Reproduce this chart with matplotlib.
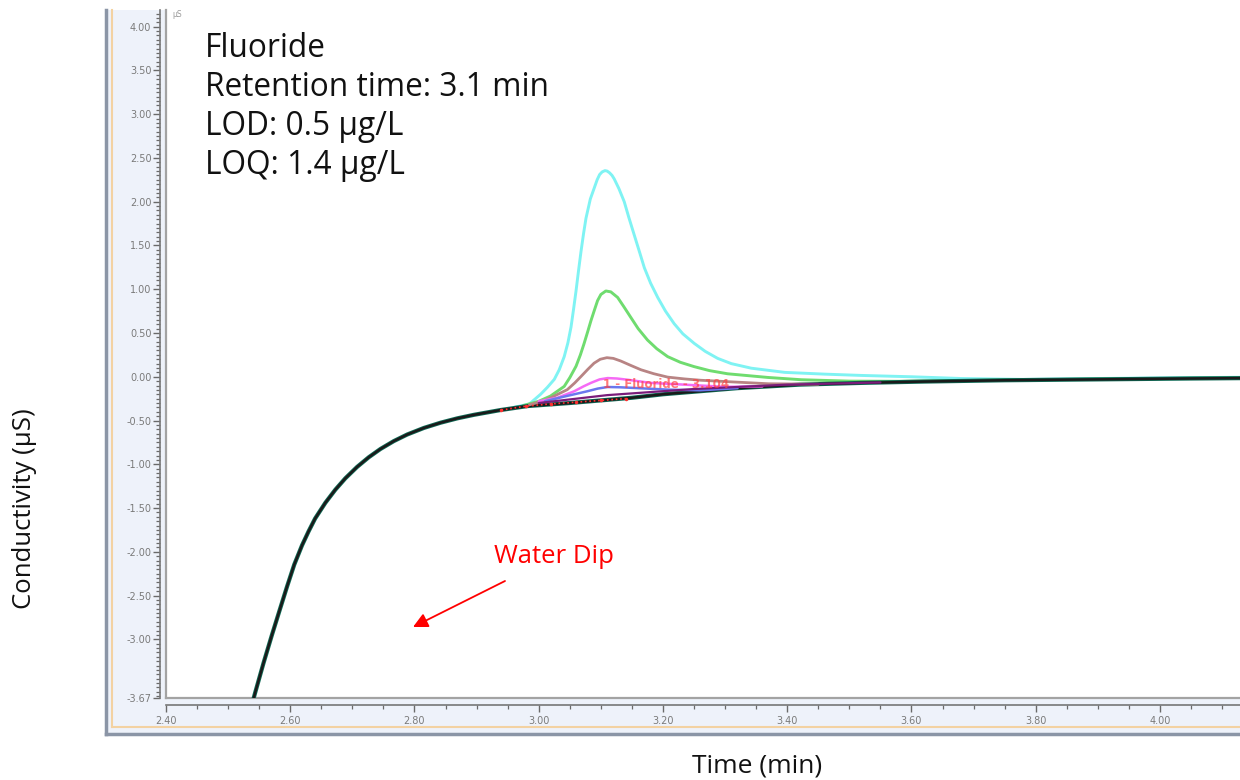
import matplotlib
matplotlib.use('Agg')
import matplotlib.pyplot as plt
from matplotlib.patches import Rectangle
from matplotlib.lines import Line2D
from matplotlib.ticker import MultipleLocator, FixedLocator, FixedFormatter

# ---------------- data ----------------
base_t = [2.535, 2.5435, 2.557, 2.5705, 2.583, 2.5947, 2.6065, 2.619, 2.6296, 2.640,
          2.6565, 2.6726, 2.6887, 2.7076, 2.7263, 2.7452, 2.7667, 2.7882, 2.815, 2.8419,
          2.869, 2.8956, 2.9387, 2.9818, 3.05, 3.10, 3.15, 3.20, 3.26, 3.32,
          3.42, 3.52, 3.62, 3.75, 3.90, 4.05, 4.15]
base_v = [-3.83, -3.61, -3.27, -2.95, -2.665, -2.40, -2.145, -1.925, -1.765, -1.62,
          -1.44, -1.29, -1.16, -1.03, -0.92, -0.825, -0.735, -0.66, -0.585, -0.525,
          -0.475, -0.435, -0.38, -0.335, -0.30, -0.27, -0.24, -0.20, -0.165, -0.13,
          -0.09, -0.07, -0.055, -0.04, -0.03, -0.02, -0.015]

cyan_t = [2.960, 2.985, 3.003, 3.014, 3.025, 3.033, 3.041, 3.047, 3.052, 3.056,
          3.060, 3.064, 3.068, 3.072, 3.076, 3.083, 3.089, 3.094, 3.098, 3.102,
          3.1065, 3.110, 3.114, 3.118, 3.1215, 3.129, 3.1376, 3.145, 3.1537, 3.162,
          3.170, 3.180, 3.1915, 3.204, 3.218, 3.232, 3.2505, 3.268, 3.288, 3.31,
          3.342, 3.396, 3.46, 3.52, 3.60, 3.68, 3.78, 3.90, 4.05, 4.15]
cyan_v = [-0.35, -0.31, -0.20, -0.12, -0.03, 0.08, 0.23, 0.39, 0.57, 0.77,
          0.98, 1.21, 1.43, 1.63, 1.81, 2.03, 2.15, 2.25, 2.31, 2.34,
          2.355, 2.35, 2.33, 2.30, 2.26, 2.15, 2.00, 1.82, 1.62, 1.43,
          1.245, 1.07, 0.906, 0.75, 0.606, 0.49, 0.38, 0.29, 0.21, 0.15,
          0.098, 0.05, 0.03, 0.015, 0.0, -0.02, -0.03, -0.02, -0.01, -0.005]

green_t = [2.975, 3.000, 3.019, 3.041, 3.050, 3.060, 3.067, 3.073, 3.079, 3.084,
           3.090, 3.0947, 3.100, 3.108, 3.116, 3.127, 3.137, 3.148, 3.160, 3.175,
           3.190, 3.2075, 3.228, 3.25, 3.275, 3.304, 3.369, 3.4226, 3.50, 3.58,
           3.70, 3.85, 4.00, 4.15]
green_v = [-0.33, -0.28, -0.22, -0.11, -0.01, 0.12, 0.25, 0.38, 0.52, 0.64,
           0.77, 0.87, 0.94, 0.98, 0.97, 0.906, 0.80, 0.68, 0.55, 0.42,
           0.32, 0.23, 0.165, 0.116, 0.07, 0.034, -0.008, -0.034, -0.05, -0.052,
           -0.042, -0.03, -0.02, -0.012]

brown_t = [2.985, 3.010, 3.025, 3.046, 3.058, 3.068, 3.079, 3.089, 3.099, 3.1097,
           3.120, 3.132, 3.148, 3.1645, 3.185, 3.2075, 3.235, 3.261, 3.315, 3.37, 3.45]
brown_v = [-0.32, -0.27, -0.22, -0.147, -0.07, 0.003, 0.085, 0.155, 0.20, 0.218,
           0.21, 0.18, 0.13, 0.08, 0.035, -0.004, -0.025, -0.04, -0.06, -0.08, -0.085]

magenta_t = [3.000, 3.030, 3.057, 3.072, 3.084, 3.098, 3.111, 3.126, 3.143, 3.18,
             3.234, 3.30, 3.36]
magenta_v = [-0.28, -0.24, -0.166, -0.11, -0.07, -0.03, -0.015, -0.02, -0.034, -0.07,
             -0.09, -0.115, -0.11]

blue_t = [3.010, 3.045, 3.078, 3.095, 3.111, 3.130, 3.154, 3.2075, 3.26, 3.32]
blue_v = [-0.28, -0.22, -0.166, -0.135, -0.117, -0.12, -0.128, -0.147, -0.155, -0.13]

purple_t = [3.00, 3.11, 3.25, 3.40, 3.55]
purple_v = [-0.30, -0.21, -0.14, -0.09, -0.065]

integ_t = [2.94, 2.98, 3.02, 3.06, 3.10, 3.14]
integ_v = [-0.38, -0.335, -0.31, -0.29, -0.27, -0.25]

y_ticks = [-3.67, -3.00, -2.50, -2.00, -1.50, -1.00, -0.50, 0.00, 0.50, 1.00, 1.50,
           2.00, 2.50, 3.00, 3.50, 4.00]
x_ticks = [2.40, 2.60, 2.80, 3.00, 3.20, 3.40, 3.60, 3.80, 4.00]

info_lines = ["Fluoride", "Retention time: 3.1 min", "LOD: 0.5 µg/L", "LOQ: 1.4 µg/L"]

# ---------------- figure ----------------
W, H = 1240, 780
fig = plt.figure(figsize=(12.4, 7.8), dpi=100)
fig.patch.set_facecolor('white')
FONT = ['Open Sans', 'DejaVu Sans']


def fx(x):
    return x / W


def fy(y):
    return 1 - y / H


# software panel background
fig.patches.append(Rectangle((fx(106), fy(734)), fx(1250) - fx(106), fy(10) - fy(734),
                             transform=fig.transFigure, facecolor='#eef2fa',
                             edgecolor='none', zorder=-5))
# gray outer frame
fig.add_artist(Line2D([fx(106), fx(106)], [fy(10), fy(734)], color='#8b95a6', lw=2.5,
                      transform=fig.transFigure))
fig.add_artist(Line2D([fx(106), fx(1240)], [fy(734), fy(734)], color='#8b95a6', lw=2.5,
                      transform=fig.transFigure))
# orange inner frame
fig.add_artist(Line2D([fx(112), fx(112)], [fy(10), fy(727)], color='#f3d2a2', lw=1.5,
                      transform=fig.transFigure))
fig.add_artist(Line2D([fx(112), fx(1240)], [fy(727), fy(727)], color='#f3d2a2', lw=1.5,
                      transform=fig.transFigure))

ax = fig.add_axes([fx(166), fy(698), fx(1242) - fx(166), fy(10) - fy(698)])
ax.set_facecolor('white')
ax.set_xlim(2.40, 4.132)
ax.set_ylim(-3.67, 4.19)

# plot-area border
ax.plot([0, 0], [0, 1], transform=ax.transAxes, color='#a3a3a3', lw=1.6, clip_on=False, zorder=1)
ax.plot([0, 1], [0, 0], transform=ax.transAxes, color='#a3a3a3', lw=1.6, clip_on=False, zorder=1)

for s in ['top', 'right']:
    ax.spines[s].set_visible(False)
ax.spines['left'].set_position(('outward', 4))
ax.spines['bottom'].set_position(('outward', 5))
for s in ['left', 'bottom']:
    ax.spines[s].set_color('#777777')
    ax.spines[s].set_linewidth(1.2)

ax.yaxis.set_major_locator(FixedLocator(y_ticks))
ax.yaxis.set_major_formatter(FixedFormatter(['%.2f' % v for v in y_ticks]))
ax.yaxis.set_minor_locator(MultipleLocator(0.05))
ax.xaxis.set_major_locator(FixedLocator(x_ticks))
ax.xaxis.set_major_formatter(FixedFormatter(['%.2f' % v for v in x_ticks]))
ax.xaxis.set_minor_locator(MultipleLocator(0.05))

ax.tick_params(axis='both', which='major', length=5, width=1, color='#6a6a6a',
               labelsize=7, labelcolor='#7a7a7a')
ax.tick_params(axis='both', which='minor', length=3, width=0.9, color='#6a6a6a')
ax.tick_params(axis='y', which='both', pad=1.5)
ax.tick_params(axis='x', which='both', pad=3)

# ---------------- traces ----------------
kw = dict(solid_joinstyle='round', solid_capstyle='round')
ax.plot(cyan_t, cyan_v, color='#7ff3f3', lw=2.1, zorder=3, **kw)
ax.plot(green_t, green_v, color='#6fdc6f', lw=2.1, zorder=3.05, **kw)
ax.plot(base_t, base_v, color='#0f6a55', lw=3.0, zorder=3.1, **kw)
ax.plot(base_t, base_v, color='#1a1a1a', lw=1.8, zorder=3.2, **kw)

ax.plot(brown_t, brown_v, color='#b88484', lw=2.0, zorder=4.2, **kw)
ax.plot(magenta_t, magenta_v, color='#f56af5', lw=1.8, zorder=4.3, **kw)
ax.plot(blue_t, blue_v, color='#6b78ee', lw=1.8, zorder=4.4, **kw)
ax.plot(purple_t, purple_v, color='#7a1c7a', lw=1.6, zorder=4.5, **kw)
ax.plot(integ_t, integ_v, color='#ff3030', lw=1.2, ls=':', marker='.', markersize=3,
        zorder=5)
ax.text(3.103, -0.085, '1 - Fluoride - 3.104', color='#ff4040', fontsize=8.5,
        fontweight='bold', ha='left', va='center', alpha=0.7, zorder=6)

# ---------------- text ----------------
fig.text(fx(172), fy(17), 'µS', fontsize=5.5, color='#9a9a9a')

for line, yb in zip(info_lines, [57, 96, 135, 174]):
    fig.text(fx(205), fy(yb), line, fontsize=22.8, family=FONT,
             va='baseline', ha='left', color='#111111')

fig.text(fx(494), fy(563), 'Water Dip', fontsize=18.5, family=FONT,
         color='#ff0000', va='baseline', ha='left')
ax.annotate('', xy=(413, H - 627), xycoords='figure pixels',
            xytext=(505, H - 581), textcoords='figure pixels',
            arrowprops=dict(arrowstyle='-|>', color='#ff0000', lw=1.3,
                            mutation_scale=22, shrinkA=0, shrinkB=0))

fig.text(fx(25), fy(509), 'Conductivity (µS)', rotation=90, fontsize=18.5,
         family=FONT, ha='center', va='center', color='#111111')
fig.text(fx(757), fy(766), 'Time (min)', fontsize=19, family=FONT,
         ha='center', va='center', color='#111111')

fig.savefig('out.png', dpi=100)
